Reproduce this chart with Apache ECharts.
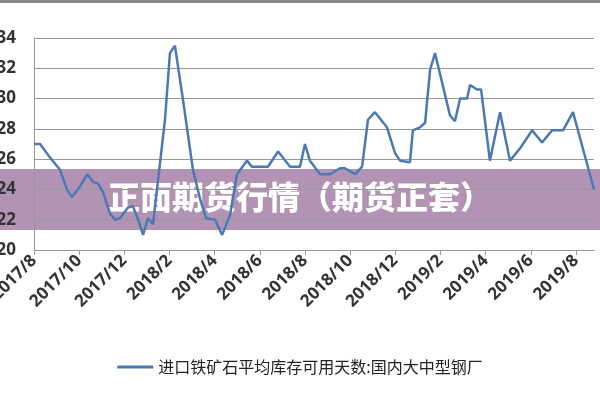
<!DOCTYPE html><html><head><meta charset="utf-8"><script src="https://cdn.jsdelivr.net/npm/echarts@6/dist/echarts.min.js"></script></head><body style="margin:0"><div id="c" style="width:600px;height:400px"></div><script>
const months=[0,0.27,0.71,1.15,1.46,1.68,2.04,2.35,2.61,2.83,3.06,3.37,3.59,3.81,4.16,4.38,4.61,4.83,5.05,5.27,5.8,6.02,6.24,6.6,7.04,7.35,7.62,8.02,8.33,8.68,8.99,9.43,9.65,10.01,10.36,10.81,11.34,11.78,12.0,12.22,12.67,13.11,13.55,13.77,14.22,14.53,14.79,15.1,15.63,15.99,16.21,16.65,16.78,17.09,17.32,17.54,17.76,18.42,18.64,18.87,19.18,19.31,19.62,19.8,20.19,20.64,21.08,21.52,22.06,22.5,22.94,23.43,23.87,24.27,24.8];
const values=[27.0,27.0,26.1,25.3,24.0,23.5,24.2,25.0,24.5,24.4,23.8,22.4,22.0,22.1,22.8,22.9,22.0,21.0,22.1,21.7,28.6,33.0,33.5,29.9,25.3,23.4,22.1,22.0,21.0,22.3,25.0,25.9,25.5,25.5,25.5,26.5,25.5,25.5,27.0,25.9,25.0,25.0,25.4,25.4,25.0,25.5,28.6,29.1,28.1,26.4,25.9,25.8,27.9,28.1,28.4,31.9,33.0,28.9,28.5,30.0,30.0,30.9,30.6,30.6,25.9,29.1,25.9,26.7,27.9,27.1,27.9,27.9,29.1,26.9,24.0];
const tickLabels=['2017/8','2017/10','2017/12','2018/2','2018/4','2018/6','2018/8','2018/10','2018/12','2019/2','2019/4','2019/6','2019/8'];
const seriesName='进口铁矿石平均库存可用天数:国内大中型钢厂';
const banner='正面期货行情（期货正套）';
const ch=echarts.init(document.getElementById('c'));
ch.setOption({
 animation:false,
 grid:{left:34,right:6,top:38,bottom:150,outerBoundsMode:'none',containLabel:false},
 xAxis:{type:'value',min:0,max:24.8,interval:2,
  axisLine:{lineStyle:{color:'#999'}},axisTick:{show:true,length:5,lineStyle:{color:'#999'}},splitLine:{show:false},
  axisLabel:{rotate:45,fontSize:17,fontWeight:'bold',color:'#333',fontFamily:'Noto Sans',margin:8,showMaxLabel:false,
   formatter:v=>tickLabels[Math.round(v/2)]||''}},
 yAxis:{type:'value',min:20,max:34,interval:2,
  axisLine:{show:true,lineStyle:{color:'#999'}},axisTick:{show:false},
  splitLine:{lineStyle:{color:'#999',width:1}},
  axisLabel:{fontSize:17,fontWeight:'bold',color:'#333',margin:18,fontFamily:'Noto Sans'}},
 legend:{bottom:20,left:'center',itemWidth:36,icon:'rect',itemHeight:3,
  textStyle:{fontSize:16,color:'#222',fontFamily:'Noto Sans CJK SC'},data:[seriesName]},
 series:[{name:seriesName,type:'line',data:months.map((m,i)=>[m,values[i]]),symbol:'none',
  lineStyle:{color:'#4a7ab5',width:2.5},itemStyle:{color:'#4a7ab5'}}],
 graphic:[
  {type:'rect',left:0,top:169,shape:{width:600,height:61},style:{fill:'rgba(150,105,150,0.72)'}},
  {type:'text',left:'center',top:181,style:{text:banner,fill:'#fff',font:'900 32px "Noto Sans CJK SC"'}},
  {type:'rect',left:0,top:0,shape:{width:600,height:3},style:{fill:'#888'}}
 ]
});
</script></body></html>
